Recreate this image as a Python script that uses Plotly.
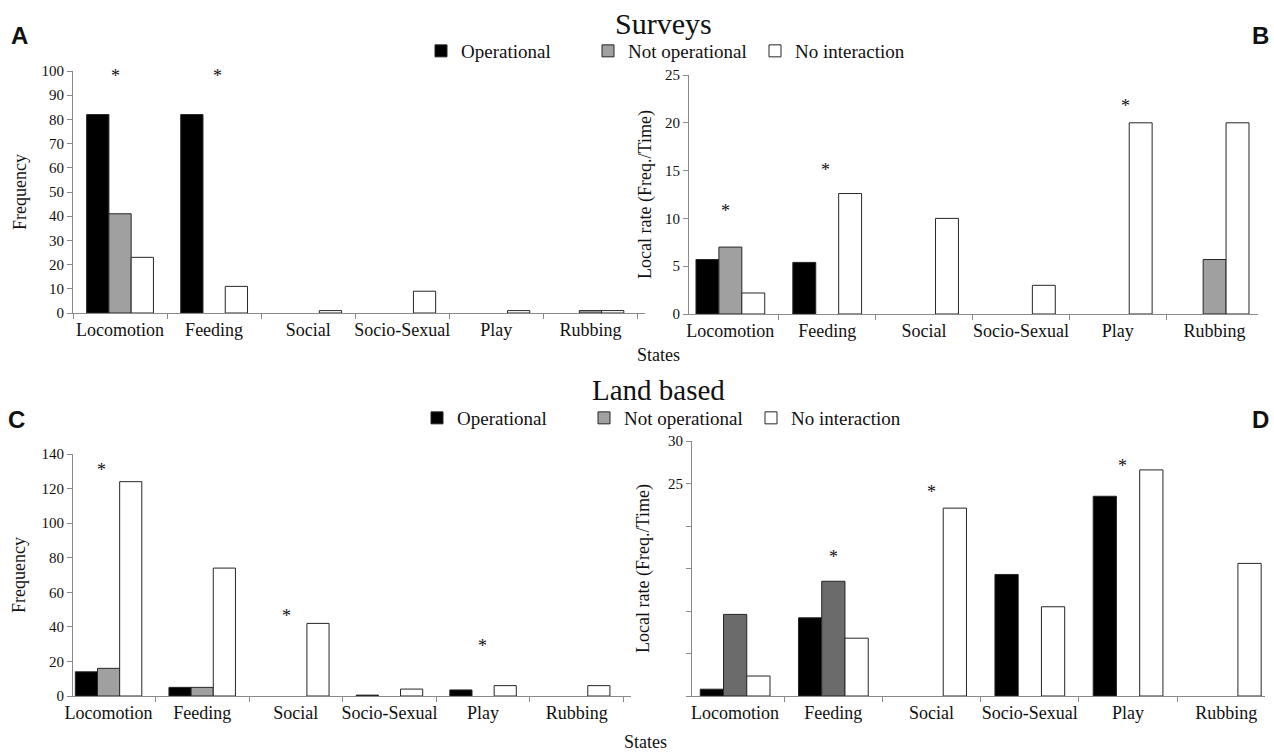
import plotly.graph_objects as go

W, H = 1274, 752

# ---------------- data ----------------
states = ["Locomotion", "Feeding", "Social", "Socio-Sexual", "Play", "Rubbing"]
series_names = ["Operational", "Not operational", "No interaction"]

# Surveys - Frequency (panel A)
surv_freq_op = [82, 82, 0, 0, 0, 0]
surv_freq_notop = [41, 0, 0, 0, 0, 1]
surv_freq_noint = [23, 11, 1, 9, 1, 1]

# Surveys - Local rate (panel B)
surv_rate_op = [5.7, 5.4, 0, 0, 0, 0]
surv_rate_notop = [7.0, 0, 0, 0, 0, 5.7]
surv_rate_noint = [2.2, 12.6, 10, 3, 20, 20]

# Land based - Frequency (panel C)
land_freq_op = [14, 5, 0, 0.5, 3.5, 0]
land_freq_notop = [16, 5, 0, 0, 0, 0]
land_freq_noint = [124, 74, 42, 4, 6, 6]

# Land based - Local rate (panel D)
land_rate_op = [0.8, 9.2, 0, 14.3, 23.5, 0]
land_rate_notop = [9.6, 13.5, 0, 0, 0, 0]
land_rate_noint = [2.35, 6.8, 22.1, 10.5, 26.6, 15.6]

# significance asterisks (state, height in axis units)
surv_freq_sig_states = ["Locomotion", "Feeding"]
surv_freq_sig_y = [98, 98]
surv_rate_sig_states = ["Locomotion", "Feeding", "Play"]
surv_rate_sig_y = [10.8, 15.1, 21.8]
land_freq_sig_states = ["Locomotion", "Social", "Play"]
land_freq_sig_y = [130.7, 46.3, 28.9]
land_rate_sig_states = ["Feeding", "Social", "Play"]
land_rate_sig_y = [16.4, 24.0, 27.1]

# ---------------- styles ----------------
SERIF = "Liberation Serif"
SANS = "Liberation Sans"
TXT = "#111111"
AXC = "#8a8a8a"
OUT = "#262626"

panels = [
    dict(ax="", x0=73, x1=645, yt=71, yb=313, xr=[-0.5, 5.58], yr=[0, 100], dt=10,
         title="Frequency", so=10, gray="#a0a0a0",
         data=(surv_freq_op, surv_freq_notop, surv_freq_noint), legend="legend", show=True,
         sig=(surv_freq_sig_states, surv_freq_sig_y), sigshift=[-5, 3], labels=None),
    dict(ax="2", x0=689, x1=1258, yt=75, yb=314, xr=[-0.427, 5.448], yr=[0, 25], dt=5,
         title="Local rate (Freq./Time)", so=8, gray="#a0a0a0",
         data=(surv_rate_op, surv_rate_notop, surv_rate_noint), legend="legend", show=False,
         sig=(surv_rate_sig_states, surv_rate_sig_y), sigshift=[-5, -2, 8], labels=None),
    dict(ax="3", x0=73, x1=631, yt=454, yb=696, xr=[-0.38, 5.58], yr=[0, 140], dt=20,
         title="Frequency", so=11, gray="#a0a0a0",
         data=(land_freq_op, land_freq_notop, land_freq_noint), legend="legend2", show=True,
         sig=(land_freq_sig_states, land_freq_sig_y), sigshift=[-7, -9, -1], labels=None),
    dict(ax="4", x0=692, x1=1265, yt=441, yb=696, xr=[-0.439, 5.394], yr=[0, 30], dt=5,
         title="Local rate (Freq./Time)", so=13, gray="#6b6b6b",
         data=(land_rate_op, land_rate_notop, land_rate_noint), legend="legend2", show=False,
         sig=(land_rate_sig_states, land_rate_sig_y), sigshift=[0, 0, -6],
         labels=["", "", "", "", "", "25", "30"]),
]

fig = go.Figure()
annotations = []
layout_axes = {}

for p in panels:
    colors = ["#000000", p["gray"], "#ffffff"]
    for name, vals, col in zip(series_names, p["data"], colors):
        fig.add_trace(go.Bar(
            x=states,
            y=[v if v else None for v in vals],
            name=name,
            marker=dict(color=col, line=dict(color=OUT, width=1)),
            xaxis="x" + p["ax"], yaxis="y" + p["ax"],
            legend=p["legend"], showlegend=p["show"],
            hoverinfo="x+y+name",
        ))
    xa = dict(
        domain=[p["x0"] / W, p["x1"] / W], anchor="y" + p["ax"],
        type="category", categoryorder="array", categoryarray=states,
        range=p["xr"], showline=True, linecolor=AXC, linewidth=1,
        ticks="outside", tickson="boundaries", ticklen=5, tickcolor=AXC,
        showgrid=False, zeroline=False, automargin=False, tickangle=0,
        tickfont=dict(family=SERIF, size=18, color=TXT),
    )
    ya = dict(
        domain=[1 - p["yb"] / H, 1 - p["yt"] / H], anchor="x" + p["ax"],
        range=p["yr"], showline=True, linecolor=AXC, linewidth=1,
        ticks="outside", ticklen=5, tickcolor=AXC,
        showgrid=False, zeroline=False, automargin=False,
        tickfont=dict(family=SERIF, size=15, color=TXT),
        title=dict(text=p["title"], font=dict(family=SERIF, size=18, color=TXT), standoff=p["so"]),
    )
    if p["labels"] is None:
        ya["dtick"] = p["dt"]
        ya["tick0"] = 0
    else:
        ya["tickmode"] = "array"
        ya["tickvals"] = [i * p["dt"] for i in range(len(p["labels"]))]
        ya["ticktext"] = p["labels"]
    layout_axes["xaxis" + p["ax"]] = xa
    layout_axes["yaxis" + p["ax"]] = ya

    sig_states, sig_y = p["sig"]
    for s, yv, sh in zip(sig_states, sig_y, p["sigshift"]):
        annotations.append(dict(
            x=s, y=yv, xref="x" + p["ax"], yref="y" + p["ax"], text="*",
            showarrow=False, xshift=sh, yanchor="middle",
            font=dict(family=SERIF, size=18, color=TXT)))

def paper_text(text, x, y, size, family, bold=False):
    return dict(text=("<b>%s</b>" % text) if bold else text, x=x / W, y=1 - y / H,
                xref="paper", yref="paper", showarrow=False,
                xanchor="center", yanchor="middle",
                font=dict(family=family, size=size, color=TXT))

annotations += [
    paper_text("Surveys", 663, 23, 30, SERIF),
    paper_text("Land based", 658, 390, 29, SERIF),
    paper_text("A", 19, 36, 24, SANS, True),
    paper_text("B", 1260, 36, 24, SANS, True),
    paper_text("C", 16, 420, 24, SANS, True),
    paper_text("D", 1260, 420, 24, SANS, True),
    paper_text("States", 658, 355, 18, SERIF),
    paper_text("States", 645, 742, 18, SERIF),
]

legend_style = dict(orientation="h", xanchor="left", yanchor="middle",
                    font=dict(family=SERIF, size=19, color=TXT),
                    bgcolor="rgba(0,0,0,0)", traceorder="normal",
                    entrywidth=122, entrywidthmode="pixels")

fig.update_layout(
    template="none",
    width=W, height=H, margin=dict(l=0, r=0, t=0, b=0, autoexpand=False),
    paper_bgcolor="white", plot_bgcolor="white",
    font=dict(family=SERIF, color=TXT),
    barmode="group", bargap=0.29, bargroupgap=0,
    legend=dict(x=421 / W, y=1 - 51 / H, **legend_style),
    legend2=dict(x=417 / W, y=1 - 418 / H, **legend_style),
    annotations=annotations,
    **layout_axes,
)

fig.write_html("out.html")
